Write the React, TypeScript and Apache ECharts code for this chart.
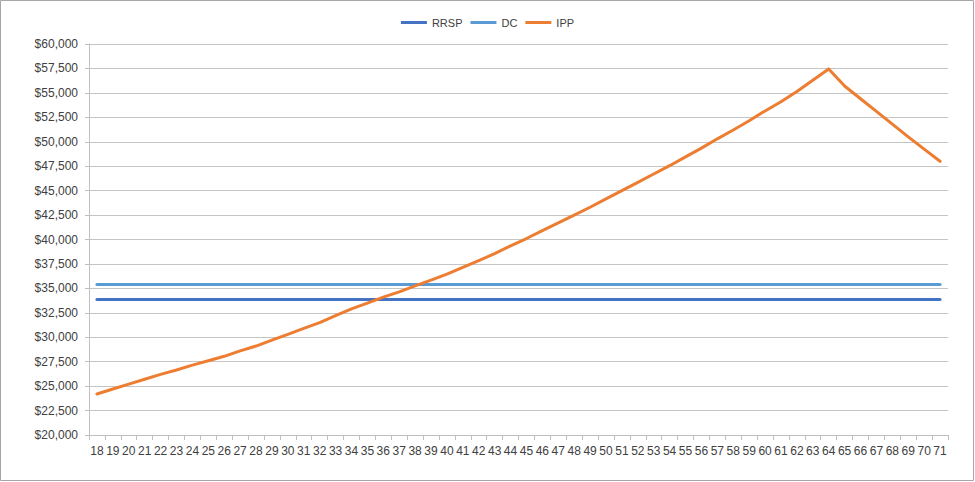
import React, { useEffect, useRef } from "react";
import * as echarts from "echarts";

const ages: string[] = [
  "18","19","20","21","22","23","24","25","26","27","28","29","30","31","32","33","34","35",
  "36","37","38","39","40","41","42","43","44","45","46","47","48","49","50","51","52","53",
  "54","55","56","57","58","59","60","61","62","63","64","65","66","67","68","69","70","71",
];

const rrsp: number[] = [
  33850,33850,33850,33850,33850,33850,33850,33850,33850,33850,33850,33850,33850,33850,33850,33850,33850,33850,
  33850,33850,33850,33850,33850,33850,33850,33850,33850,33850,33850,33850,33850,33850,33850,33850,33850,33850,
  33850,33850,33850,33850,33850,33850,33850,33850,33850,33850,33850,33850,33850,33850,33850,33850,33850,33850,
];

const dc: number[] = [
  35400,35400,35400,35400,35400,35400,35400,35400,35400,35400,35400,35400,35400,35400,35400,35400,35400,35400,
  35400,35400,35400,35400,35400,35400,35400,35400,35400,35400,35400,35400,35400,35400,35400,35400,35400,35400,
  35400,35400,35400,35400,35400,35400,35400,35400,35400,35400,35400,35400,35400,35400,35400,35400,35400,35400,
];

const ipp: number[] = [
  24200,24700,25200,25700,26200,26650,27150,27600,28050,28600,29100,29700,30300,30900,31500,32200,32900,33500,
  34100,34650,35250,35850,36450,37150,37850,38550,39350,40100,40900,41700,42500,43300,44150,45000,45850,46700,
  47550,48450,49350,50300,51200,52150,53150,54100,55150,56300,57450,55700,54400,53100,51800,50500,49250,48000,
];

const seriesNames: string[] = ["RRSP", "DC", "IPP"];
const seriesColors: string[] = ["#4472C4", "#5B9BD5", "#ED7D31"];

const FONT = "'Liberation Sans', Arial, sans-serif";
const TEXT = "#404040";

export default function App() {
  const ref = useRef<HTMLDivElement>(null);

  useEffect(() => {
    if (!ref.current) return;
    const chart = echarts.init(ref.current, null, { renderer: "svg" });
    const data = [rrsp, dc, ipp];
    chart.setOption({
      animation: false,
      backgroundColor: "#ffffff",
      textStyle: { fontFamily: FONT },
      graphic: [
        {
          type: "rect",
          shape: { x: 0.5, y: 0.5, width: 973, height: 480 },
          style: { fill: "none", stroke: "#a6a6a6", lineWidth: 1 },
          silent: true,
          z: -1,
        },
      ],
      legend: {
        top: 12,
        left: "center",
        icon: "rect",
        itemWidth: 26,
        itemHeight: 3,
        itemGap: 8,
        textStyle: { color: TEXT, fontSize: 11, fontFamily: FONT },
        data: seriesNames,
      },
      grid: { left: 89, right: 27, top: 44, bottom: 47, containLabel: false },
      xAxis: {
        type: "category",
        data: ages,
        boundaryGap: true,
        axisLine: { show: true, lineStyle: { color: "#bfbfbf", width: 1 } },
        axisTick: { show: true, length: 5, alignWithLabel: false, lineStyle: { color: "#bfbfbf" } },
        axisLabel: { color: TEXT, fontSize: 12, fontFamily: FONT, margin: 10, interval: 0 },
        splitLine: { show: false },
      },
      yAxis: {
        type: "value",
        min: 20000,
        max: 60000,
        interval: 2500,
        axisLine: { show: true, lineStyle: { color: "#bfbfbf", width: 1 } },
        axisTick: { show: true, length: 4, lineStyle: { color: "#bfbfbf" } },
        axisLabel: {
          color: TEXT,
          fontSize: 12,
          fontFamily: FONT,
          margin: 11,
          formatter: (v: number) => "$" + v.toLocaleString("en-US"),
        },
        splitLine: { show: true, lineStyle: { color: "#c4c4c4", width: 1 } },
      },
      series: seriesNames.map((name, i) => ({
        name,
        type: "line",
        data: data[i],
        showSymbol: false,
        symbol: "none",
        smooth: false,
        color: seriesColors[i],
        lineStyle: { color: seriesColors[i], width: 3, cap: "round", join: "round" },
        z: 2 + i,
      })),
    });
    return () => chart.dispose();
  }, []);

  return (
    <div
      ref={ref}
      style={{ position: "absolute", left: 0, top: 0, width: 975, height: 482 }}
    />
  );
}
